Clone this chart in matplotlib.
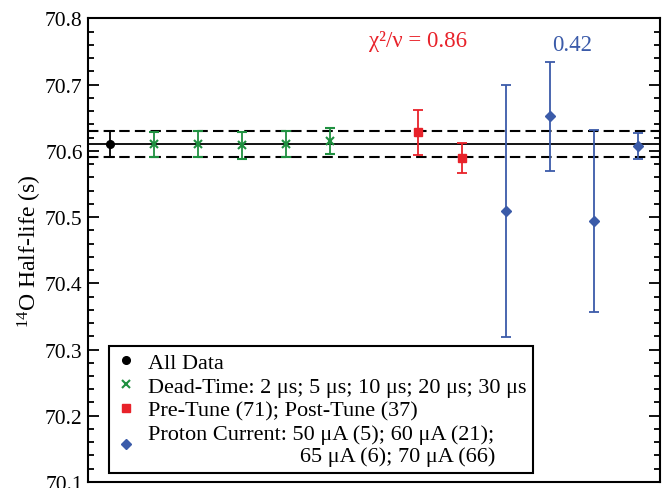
import matplotlib
matplotlib.use("Agg")
import matplotlib.pyplot as plt
from matplotlib.ticker import MultipleLocator

plt.rcParams['font.family'] = ['Liberation Serif', 'DejaVu Serif']
plt.rcParams['mathtext.fontset'] = 'custom'
plt.rcParams['mathtext.rm'] = 'Liberation Serif'
plt.rcParams['mathtext.it'] = 'Liberation Serif:italic'

# data
mean_value = 70.610
mean_err = 0.020

all_x = [0]
all_y = [70.610]
all_err = [0.020]

dead_x = [1, 2, 3, 4, 5]
dead_y = [70.610, 70.610, 70.608, 70.610, 70.615]
dead_err = [0.019, 0.020, 0.020, 0.020, 0.020]

tune_x = [7, 8]
tune_y = [70.628, 70.589]
tune_err = [0.034, 0.023]

proton_x = [9, 10, 11, 12]
proton_y = [70.509, 70.652, 70.494, 70.607]
proton_err = [0.190, 0.082, 0.138, 0.020]

labels = [
    "All Data",
    "Dead-Time: 2 \u03bcs; 5 \u03bcs; 10 \u03bcs; 20 \u03bcs; 30 \u03bcs",
    "Pre-Tune (71); Post-Tune (37)",
    "Proton Current: 50 \u03bcA (5); 60 \u03bcA (21);\n"
    + " " * 27 + "65 \u03bcA (6); 70 \u03bcA (66)",
]

black = "black"
green = "#1f9040"
red = "#e8222a"
blue = "#3b5ba9"

fig = plt.figure(figsize=(6.7, 4.89), dpi=100)
ax = fig.add_axes([0.1306, 0.0123, 0.8544, 0.9482])

ax.axhline(mean_value, color="black", lw=1.3)
ax.axhline(mean_value + mean_err, color="black", lw=1.5, ls=(0, (5, 2.5)))
ax.axhline(mean_value - mean_err, color="black", lw=1.5, ls=(0, (5, 2.5)))

common = dict(ls="none", capsize=3.5, elinewidth=1.3, capthick=1.3)
ax.errorbar(all_x, all_y, yerr=all_err, fmt="o", color=black, ms=5.5,
            label=labels[0], **common)
ax.errorbar(dead_x, dead_y, yerr=dead_err, fmt="x", color=green, ms=5.5,
            mew=1.5, label=labels[1], **common)
ax.errorbar(tune_x, tune_y, yerr=tune_err, fmt="s", color=red, ms=5.5,
            label=labels[2], **common)
ax.errorbar(proton_x, proton_y, yerr=proton_err, fmt="D", color=blue, ms=5.5,
            label=labels[3], **common)

ax.text(7.0, 70.767, "\u03c7\u00b2/\u03bd = 0.86", color=red, fontsize=16.5,
        ha="center", va="center")
ax.text(10.5, 70.761, "0.42", color=blue, fontsize=16.5,
        ha="center", va="center")

ax.set_xlim(-0.5, 12.5)
ax.set_ylim(70.1, 70.8)
ax.set_xticks([])
ax.yaxis.set_major_locator(MultipleLocator(0.1))
ax.yaxis.set_minor_locator(MultipleLocator(0.02))
ax.tick_params(axis="y", which="both", direction="in", left=True, right=True,
               labelsize=15.5, width=1.3)
ax.tick_params(axis="y", which="major", length=8)
ax.tick_params(axis="y", which="minor", length=4)
ax.set_yticklabels([f"{v:.1f}" for v in ax.get_yticks()])
ax.set_ylabel("$^{14}$O Half-life (s)", fontsize=17, labelpad=1)
for sp in ax.spines.values():
    sp.set_linewidth(1.5)

handles, _ = ax.get_legend_handles_labels()
handles = [h[0] for h in handles]
leg = ax.legend(handles, labels, loc="lower left",
                bbox_to_anchor=(0.0376, 0.0194), borderaxespad=0,
                fontsize=16, fancybox=False, edgecolor="black",
                framealpha=1, handlelength=0.9, handletextpad=0.55,
                labelspacing=0.15, borderpad=0.3)
leg.get_frame().set_linewidth(1.5)

fig.savefig("out.png", dpi=100)
